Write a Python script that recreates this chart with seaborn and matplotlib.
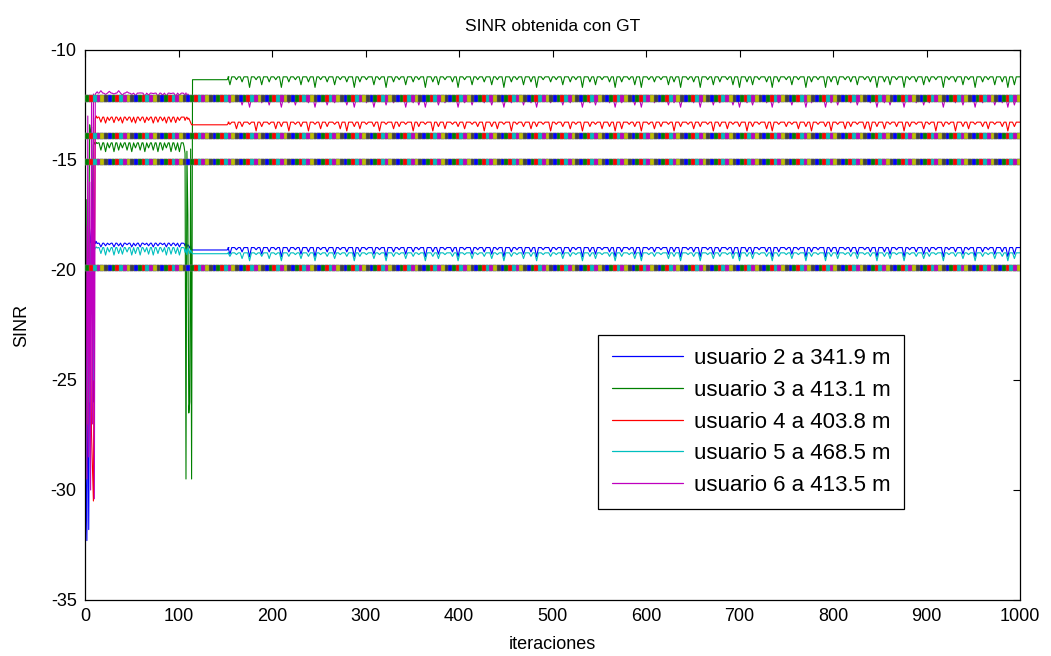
import numpy as np
import pandas as pd
import matplotlib
matplotlib.use("Agg")
import matplotlib.pyplot as plt
import seaborn as sns

# ---------------------------------------------------------------- data
users = ["usuario 2 a 341.9 m", "usuario 3 a 413.1 m", "usuario 4 a 403.8 m",
         "usuario 5 a 468.5 m", "usuario 6 a 413.5 m"]
user_colors = [(0, 0, 1), (0, 0.5, 0), (1, 0, 0), (0, 0.75, 0.75), (0.75, 0, 0.75)]

# start-up transient, iterations 0..13
early_u2 = [-19.0, -29.5, -32.3, -24.0, -31.8, -22.0, -18.5, -18.1, -18.0, -26.0, -18.6, -18.8, -18.7, -18.8]
early_u3 = [-18.6, -29.0, -16.8, -25.0, -19.2, -13.4, -14.0, -13.5, -20.0, -14.3, -14.2, -14.3, -14.2, -14.25]
early_u4 = [-26.0, -28.5, -22.0, -27.0, -24.5, -20.0, -23.0, -27.5, -29.0, -30.5, -20.0, -13.1, -13.0, -13.1]
early_u5 = [-26.0, -29.5, -27.0, -23.0, -19.5, -26.0, -18.8, -22.0, -19.0, -25.0, -19.1, -19.0, -18.95, -19.0]
early_u6 = [-30.0, -18.0, -29.5, -13.0, -28.5, -16.0, -30.0, -12.1, -27.0, -12.0, -30.4, -12.0, -11.95, -11.9]

# levels: first regime, flat stretch after the switch, second regime
level_p1 = [-18.78, -14.22, -13.05, -18.98, -11.96]
level_flat = [-19.09, -11.35, -13.40, -19.26, -12.20]
level_p2 = [-18.98, -11.22, -13.28, -19.22, -12.20]

# dips during the first regime
dip_iters_1 = [17, 22, 26, 31, 36, 40, 45, 50, 54, 59, 64, 68, 73, 78, 83, 87, 92, 97, 101]
dips1_u2 = [-18.95, -18.9, -18.85, -18.95, -18.9, -18.95, -18.85, -18.95, -18.9, -18.95,
            -18.85, -18.9, -18.95, -18.9, -18.85, -18.95, -18.9, -18.9, -18.95]
dips1_u3 = [-14.55, -14.62, -14.45, -14.62, -14.55, -14.45, -14.55, -14.62, -14.45, -14.55,
            -14.62, -14.45, -14.55, -14.62, -14.55, -14.45, -14.62, -14.55, -14.62]
dips1_u4 = [-13.28, -13.32, -13.2, -13.3, -13.22, -13.32, -13.2, -13.28, -13.32, -13.22,
            -13.3, -13.2, -13.32, -13.28, -13.22, -13.32, -13.28, -13.3, -13.2]
dips1_u5 = [-19.25, -19.32, -19.18, -19.32, -19.25, -19.28, -19.18, -19.32, -19.25, -19.32,
            -19.18, -19.28, -19.32, -19.25, -19.18, -19.32, -19.28, -19.25, -19.32]
dips1_u6 = [-11.85, -12.02, -11.88, -12.0, -11.85, -12.05, -11.9, -12.02, -12.08, -11.95,
            -12.1, -12.05, -11.98, -12.1, -12.05, -12.1, -11.98, -12.1, -12.05]

# switch between regimes, iterations 106..116
switch_iters = [106, 107, 108, 109, 110, 111, 112, 113, 114, 115, 116]
switch_u2 = [-18.8, -18.9, -18.8, -18.95, -18.85, -18.9, -19.0, -18.9, -19.05, -19.09, -19.09]
switch_u3 = [-14.4, -14.7, -29.5, -14.6, -17.5, -26.5, -26.0, -14.5, -29.5, -11.35, -11.35]
switch_u4 = [-13.05, -13.2, -13.1, -13.05, -13.15, -13.1, -13.2, -13.3, -13.4, -13.4, -13.4]
switch_u5 = [-19.0, -19.2, -19.05, -19.3, -19.0, -19.1, -19.25, -19.1, -19.2, -19.26, -19.26]
switch_u6 = [-12.0, -12.05, -11.95, -12.1, -12.0, -12.05, -12.15, -12.1, -12.2, -12.2, -12.2]

# dips during the second regime
dip_iters_2 = [155, 162, 168, 176, 183, 189, 197, 204, 210, 218,
               225, 231, 239, 246, 252, 259, 267, 273, 280, 288,
               294, 301, 309, 315, 322, 330, 336, 343, 351, 357,
               364, 372, 378, 385, 393, 399, 406, 414, 420, 427,
               435, 441, 448, 456, 462, 469, 477, 483, 490, 498,
               504, 511, 519, 525, 532, 540, 546, 553, 561, 567,
               574, 582, 588, 595, 603, 609, 616, 624, 630, 637,
               645, 651, 658, 666, 672, 679, 687, 693, 700, 708,
               714, 721, 729, 735, 742, 750, 756, 763, 771, 777,
               784, 792, 798, 805, 813, 819, 826, 834, 840, 847,
               855, 861, 868, 876, 882, 889, 897, 903, 910, 918,
               924, 931, 939, 945, 952, 960, 966, 973, 981, 987,
               994]
dips2_u2 = [-19.28, -19.08, -19.18, -19.4, -19.08, -19.28, -19.18, -19.08, -19.4, -19.18,
            -19.08, -19.28, -19.18, -19.4, -19.08, -19.18, -19.28, -19.08, -19.18, -19.4,
            -19.18, -19.08, -19.28, -19.08, -19.4, -19.18, -19.08, -19.28, -19.18, -19.08,
            -19.4, -19.18, -19.28, -19.08, -19.18, -19.4, -19.08, -19.28, -19.08, -19.18,
            -19.28, -19.08, -19.4, -19.18, -19.08, -19.28, -19.18, -19.4, -19.08, -19.18,
            -19.08, -19.28, -19.18, -19.08, -19.4, -19.18, -19.28, -19.08, -19.18, -19.4,
            -19.18, -19.08, -19.28, -19.4, -19.08, -19.18, -19.08, -19.28, -19.18, -19.4,
            -19.08, -19.18, -19.4, -19.08, -19.28, -19.18, -19.08, -19.28, -19.4, -19.18,
            -19.28, -19.08, -19.18, -19.4, -19.18, -19.08, -19.28, -19.08, -19.4, -19.18,
            -19.08, -19.4, -19.18, -19.28, -19.08, -19.18, -19.28, -19.08, -19.18, -19.4,
            -19.18, -19.28, -19.08, -19.4, -19.08, -19.18, -19.28, -19.18, -19.08, -19.4,
            -19.08, -19.18, -19.28, -19.08, -19.4, -19.18, -19.08, -19.28, -19.18, -19.4,
            -19.28]
dips2_u3 = [-11.58, -11.35, -11.45, -11.7, -11.35, -11.58, -11.45, -11.35, -11.7, -11.45,
            -11.35, -11.58, -11.45, -11.7, -11.35, -11.45, -11.58, -11.35, -11.45, -11.7,
            -11.45, -11.35, -11.58, -11.35, -11.7, -11.45, -11.35, -11.58, -11.45, -11.35,
            -11.7, -11.45, -11.58, -11.35, -11.45, -11.7, -11.35, -11.58, -11.35, -11.45,
            -11.58, -11.35, -11.7, -11.45, -11.35, -11.58, -11.45, -11.7, -11.35, -11.45,
            -11.35, -11.58, -11.45, -11.35, -11.7, -11.45, -11.58, -11.35, -11.45, -11.7,
            -11.45, -11.35, -11.58, -11.7, -11.35, -11.45, -11.35, -11.58, -11.45, -11.7,
            -11.35, -11.45, -11.7, -11.35, -11.58, -11.45, -11.35, -11.58, -11.7, -11.45,
            -11.58, -11.35, -11.45, -11.7, -11.45, -11.35, -11.58, -11.35, -11.7, -11.45,
            -11.35, -11.7, -11.45, -11.58, -11.35, -11.45, -11.58, -11.35, -11.45, -11.7,
            -11.45, -11.58, -11.35, -11.7, -11.35, -11.45, -11.58, -11.45, -11.35, -11.7,
            -11.35, -11.45, -11.58, -11.35, -11.7, -11.45, -11.35, -11.58, -11.45, -11.7,
            -11.58]
dips2_u4 = [-13.38, -13.58, -13.48, -13.38, -13.68, -13.48, -13.38, -13.58, -13.48, -13.68,
            -13.38, -13.48, -13.68, -13.38, -13.58, -13.48, -13.38, -13.58, -13.68, -13.48,
            -13.58, -13.38, -13.48, -13.68, -13.38, -13.58, -13.48, -13.38, -13.68, -13.48,
            -13.38, -13.68, -13.48, -13.58, -13.38, -13.48, -13.58, -13.38, -13.48, -13.68,
            -13.48, -13.58, -13.38, -13.68, -13.38, -13.48, -13.58, -13.48, -13.38, -13.68,
            -13.38, -13.48, -13.58, -13.38, -13.68, -13.48, -13.38, -13.58, -13.48, -13.68,
            -13.58, -13.38, -13.48, -13.68, -13.38, -13.58, -13.48, -13.38, -13.68, -13.48,
            -13.38, -13.58, -13.48, -13.38, -13.68, -13.48, -13.58, -13.38, -13.48, -13.68,
            -13.48, -13.38, -13.58, -13.68, -13.38, -13.48, -13.38, -13.58, -13.48, -13.68,
            -13.38, -13.48, -13.68, -13.38, -13.58, -13.48, -13.38, -13.58, -13.68, -13.48,
            -13.58, -13.38, -13.48, -13.68, -13.48, -13.38, -13.58, -13.38, -13.68, -13.48,
            -13.38, -13.68, -13.48, -13.58, -13.38, -13.48, -13.58, -13.38, -13.48, -13.68,
            -13.48]
dips2_u5 = [-19.38, -19.3, -19.48, -19.58, -19.3, -19.38, -19.48, -19.3, -19.58, -19.38,
            -19.3, -19.48, -19.38, -19.58, -19.3, -19.38, -19.48, -19.3, -19.38, -19.58,
            -19.38, -19.3, -19.48, -19.3, -19.58, -19.38, -19.3, -19.48, -19.38, -19.3,
            -19.58, -19.38, -19.48, -19.3, -19.38, -19.58, -19.3, -19.48, -19.3, -19.38,
            -19.48, -19.3, -19.58, -19.38, -19.3, -19.48, -19.38, -19.58, -19.3, -19.38,
            -19.3, -19.48, -19.38, -19.3, -19.58, -19.38, -19.48, -19.3, -19.38, -19.58,
            -19.38, -19.3, -19.48, -19.58, -19.3, -19.38, -19.3, -19.48, -19.38, -19.58,
            -19.3, -19.38, -19.58, -19.3, -19.48, -19.38, -19.3, -19.48, -19.58, -19.38,
            -19.48, -19.3, -19.38, -19.58, -19.38, -19.3, -19.48, -19.3, -19.58, -19.38,
            -19.3, -19.58, -19.38, -19.48, -19.3, -19.38, -19.48, -19.3, -19.38, -19.58,
            -19.38, -19.48, -19.3, -19.58, -19.3, -19.38, -19.48, -19.38, -19.3, -19.58,
            -19.3, -19.38, -19.48, -19.3, -19.58, -19.38, -19.3, -19.48, -19.38, -19.58,
            -19.48]
dips2_u6 = [-12.4, -12.3, -12.5, -12.6, -12.3, -12.4, -12.5, -12.3, -12.6, -12.4,
            -12.5, -12.3, -12.4, -12.6, -12.3, -12.5, -12.4, -12.3, -12.5, -12.6,
            -12.3, -12.4, -12.6, -12.3, -12.5, -12.4, -12.3, -12.6, -12.4, -12.5,
            -12.6, -12.3, -12.5, -12.4, -12.3, -12.6, -12.4, -12.5, -12.3, -12.4,
            -12.5, -12.3, -12.6, -12.4, -12.3, -12.5, -12.4, -12.6, -12.3, -12.4,
            -12.3, -12.5, -12.4, -12.3, -12.6, -12.4, -12.5, -12.3, -12.4, -12.6,
            -12.4, -12.3, -12.5, -12.6, -12.3, -12.4, -12.3, -12.5, -12.4, -12.6,
            -12.3, -12.4, -12.6, -12.3, -12.5, -12.4, -12.3, -12.5, -12.6, -12.4,
            -12.5, -12.3, -12.4, -12.6, -12.4, -12.3, -12.5, -12.3, -12.6, -12.4,
            -12.3, -12.6, -12.4, -12.5, -12.3, -12.4, -12.5, -12.3, -12.4, -12.6,
            -12.4, -12.5, -12.3, -12.6, -12.3, -12.4, -12.5, -12.4, -12.3, -12.6,
            -12.3, -12.4, -12.5, -12.3, -12.6, -12.4, -12.3, -12.5, -12.4, -12.6,
            -12.5]

# target SINR levels drawn as marker bands
target_levels = [-12.2, -13.9, -15.1, -19.9]
marker_colors = [(0, 0, 1), (0, 0.5, 0), (1, 0, 0), (0, 0.75, 0.75),
                 (0.75, 0, 0.75), (0.75, 0.75, 0), (0.25, 0.25, 0.25)]

x_ticks = [0, 100, 200, 300, 400, 500, 600, 700, 800, 900, 1000]
y_ticks = [-35, -30, -25, -20, -15, -10]

early = [early_u2, early_u3, early_u4, early_u5, early_u6]
dips1 = [dips1_u2, dips1_u3, dips1_u4, dips1_u5, dips1_u6]
switch = [switch_u2, switch_u3, switch_u4, switch_u5, switch_u6]
dips2 = [dips2_u2, dips2_u3, dips2_u4, dips2_u5, dips2_u6]


def build_trace(k):
    xs = list(range(len(early[k])))
    ys = list(early[k])
    b1 = level_p1[k]
    xs.append(14); ys.append(b1)
    for d, v in zip(dip_iters_1, dips1[k]):
        xs += [d - 2, d, d + 2]; ys += [b1, v, b1]
    xs.append(105); ys.append(b1)
    xs += switch_iters; ys += switch[k]
    xs.append(152); ys.append(level_flat[k])
    b2 = level_p2[k]
    xs.append(154); ys.append(b2)
    for d, v in zip(dip_iters_2, dips2[k]):
        xs += [d - 2, d, d + 2]; ys += [b2, v, b2]
    xs.append(1000); ys.append(b2)
    return pd.DataFrame({"iter": xs, "sinr": ys, "user": users[k]})


df = pd.concat([build_trace(k) for k in range(len(users))], ignore_index=True)

band_x = np.arange(0, 1001, 4)
bands = pd.DataFrame({
    "iter": np.tile(band_x, len(target_levels)),
    "sinr": np.repeat(target_levels, len(band_x)),
    "cidx": np.tile(np.arange(len(band_x)) % len(marker_colors), len(target_levels)),
})

# ---------------------------------------------------------------- figure
sns.set_style("white")
plt.rcParams["font.family"] = ["Liberation Sans", "DejaVu Sans"]
plt.rcParams["axes.unicode_minus"] = False
plt.rcParams["text.color"] = "black"
plt.rcParams["axes.labelcolor"] = "black"

fig = plt.figure(figsize=(10.51, 6.56), dpi=100)
ax = fig.add_axes([85 / 1051, 1 - 600 / 656, 935 / 1051, 550 / 656])

sns.lineplot(data=df, x="iter", y="sinr", hue="user", hue_order=users,
             palette=user_colors, sort=False, estimator=None,
             linewidth=0.8, ax=ax, legend=True, zorder=2)

sns.scatterplot(data=bands, x="iter", y="sinr", hue="cidx",
                palette=marker_colors, marker="s", s=22, linewidth=0.3,
                edgecolor="0.45", legend=False, ax=ax, zorder=3)

ax.set_xlim(0, 1000)
ax.set_ylim(-35, -10)
ax.set_xticks(x_ticks)
ax.set_yticks(y_ticks)
ax.tick_params(direction="in", length=5, width=0.8, top=True, right=True,
               labelsize=13, colors="black", pad=6)
for sp in ax.spines.values():
    sp.set_color("black")
    sp.set_linewidth(0.9)

ax.set_title("SINR obtenida con GT", fontsize=12.5, pad=14, color="black")
ax.set_xlabel("iteraciones", fontsize=13, labelpad=8, color="black")
ax.set_ylabel("SINR", fontsize=13, labelpad=15, color="black")

handles, labels = ax.get_legend_handles_labels()
leg = ax.legend(handles=handles, labels=labels, loc="upper left",
                bbox_to_anchor=(0.549, 0.482), borderaxespad=0,
                fontsize=16, handlelength=3.2, handletextpad=0.5,
                labelspacing=0.48, frameon=True, fancybox=False,
                edgecolor="black", framealpha=1, borderpad=0.6)
leg.get_frame().set_linewidth(0.9)
for txt in leg.get_texts():
    txt.set_color("black")
for line in leg.get_lines():
    line.set_linewidth(0.9)

fig.savefig("out.png", dpi=100)
